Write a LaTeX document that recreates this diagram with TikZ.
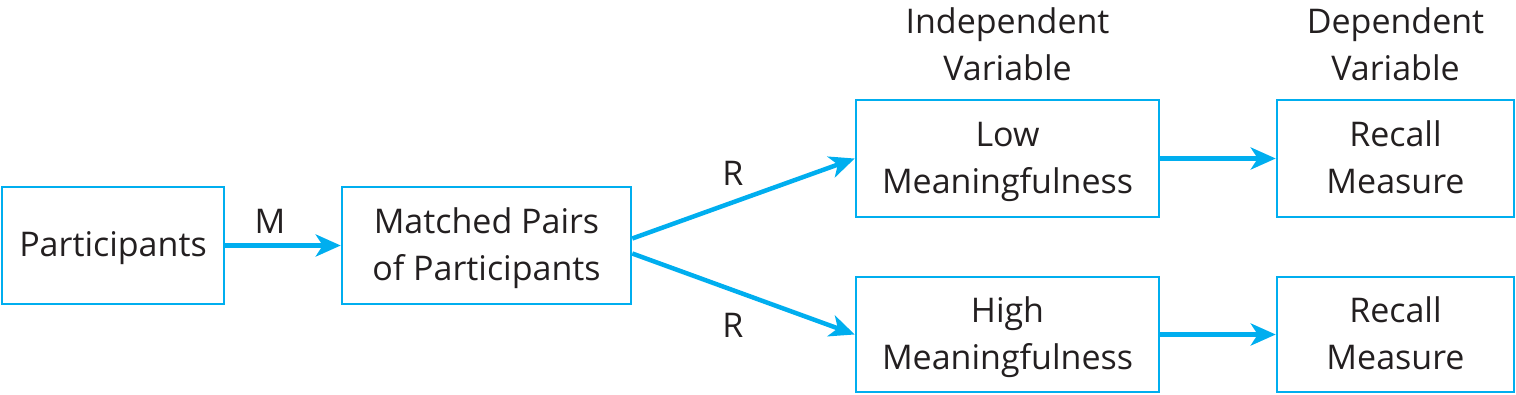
\documentclass[tikz,border=0pt]{standalone}
\usepackage{fontspec}
\setmainfont{Open Sans}
\usetikzlibrary{arrows.meta}
\definecolor{cy}{HTML}{00AEEF}
\definecolor{tx}{HTML}{231F20}
\newcommand{\topstrut}{\rule{0pt}{32pt}}
\newcommand{\botstrut}{\rule[-10pt]{0pt}{0pt}}
\begin{document}
\begin{tikzpicture}[x=1pt,y=-1pt,
  box/.style={draw=cy,line width=2.5pt,minimum height=117pt,align=center,text=tx,font=\fontsize{34}{47}\selectfont,inner sep=0pt},
  arr/.style={draw=cy,line width=4.5pt,-{Stealth[length=25pt,width=22pt,inset=7pt]}},
  lab/.style={text=tx,font=\fontsize{34}{47}\selectfont,align=center,inner sep=0pt}]
\useasboundingbox (0,0) rectangle (1516,394);
\node[box,minimum width=222pt] (p) at (113,245.5) {\topstrut Participants\botstrut};
\node[box,minimum width=289pt] (mp) at (486.5,245.5) {\topstrut Matched Pairs\\of Participants\botstrut};
\node[box,minimum width=303pt] (low) at (1007.5,158.5) {\topstrut Low\\Meaningfulness\botstrut};
\node[box,minimum width=237pt] (r1) at (1395.5,158.5) {\topstrut Recall\\Measure\botstrut};
\node[box,minimum width=303pt,minimum height=115pt] (high) at (1007.5,334.5) {\topstrut High\\Meaningfulness\botstrut};
\node[box,minimum width=237pt,minimum height=115pt] (r2) at (1395.5,334.5) {\topstrut Recall\\Measure\botstrut};
\node[lab] (iv) at (1007.5,44) {Independent\\Variable};
\node[lab] (dv) at (1395.5,44) {Dependent\\Variable};
\node[lab] (m) at (270,221) {M};
\node[lab] (r1l) at (733,173) {R};
\node[lab] (r2l) at (733,325) {R};
\draw[arr] (p.east) -- (mp.west);
\draw[arr] ([yshift=7pt]mp.east) -- (low.west);
\draw[arr] ([yshift=-8pt]mp.east) -- (high.west);
\draw[arr] (low.east) -- (r1.west);
\draw[arr] (high.east) -- (r2.west);
\end{tikzpicture}
\end{document}
